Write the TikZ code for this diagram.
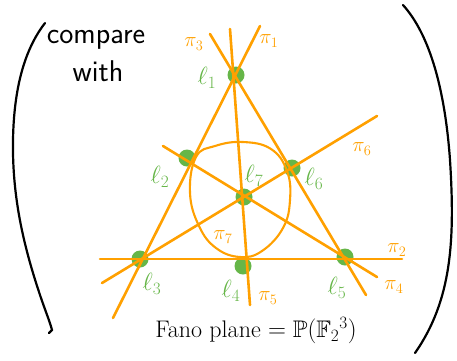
\documentclass[tikz,border=0pt]{standalone}
\usepackage{amssymb}
\definecolor{fanoorange}{RGB}{255,160,0}
\definecolor{fanogreen}{RGB}{102,182,72}
\tikzset{
  fanoline/.style={draw=fanoorange,line width=2.6pt,line cap=round},
  dotpt/.style={circle,fill=fanogreen,inner sep=0pt,minimum size=17pt},
  ptlabel/.style={text=fanogreen,font=\fontsize{25}{25}\selectfont},
  linelabel/.style={text=fanoorange,font=\fontsize{22}{22}\selectfont},
  paren/.style={draw=black,line width=2.2pt,line cap=round},
  handtext/.style={text=black,font=\sffamily\fontsize{30}{30}\selectfont}
}
\begin{document}
\begin{tikzpicture}[x=1pt,y=-1pt]
\useasboundingbox (0,0) rectangle (457,360);
% points
\node[dotpt] (l1) at (236,75) {};
\node[dotpt] (l2) at (187,158) {};
\node[dotpt] (l6) at (292,168) {};
\node[dotpt] (l7) at (244,197) {};
\node[dotpt] (l3) at (140,259) {};
\node[dotpt] (l4) at (243,266) {};
\node[dotpt] (l5) at (345,257) {};
% line end points
\coordinate (a3) at (210,34);   \coordinate (b3) at (366,295);
\coordinate (a1) at (260,26);   \coordinate (b1) at (113,318);
\coordinate (a5) at (230,29);   \coordinate (b5) at (250,305);
\coordinate (a6) at (377,116);  \coordinate (b6) at (102,283);
\coordinate (a4) at (163,146);  \coordinate (b4) at (377,277);
\coordinate (a2) at (100,259);  \coordinate (b2) at (402,259);
% lines
\draw[fanoline] (a3) -- (b3);
\draw[fanoline] (a1) -- (b1);
\draw[fanoline] (a5) -- (b5);
\draw[fanoline] (a6) -- (b6);
\draw[fanoline] (a4) -- (b4);
\draw[fanoline] (a2) -- (b2);
\draw[fanoline,line width=2.1pt] plot[smooth cycle,tension=0.7] coordinates
  {(196,157) (215,146) (243,142) (271,149) (287,171) (290,200) (283,228) (262,251) (240,257) (216,248) (199,226) (190,193)};
% line labels
\node[linelabel] (p3) at (194,44) {$\pi_3$};
\node[linelabel] (p1) at (269,41) {$\pi_1$};
\node[linelabel] (p6) at (362,149) {$\pi_6$};
\node[linelabel] (p7) at (223,237) {$\pi_7$};
\node[linelabel] (p5) at (268,298) {$\pi_5$};
\node[linelabel] (p2) at (397,250) {$\pi_2$};
\node[linelabel] (p4) at (394,287) {$\pi_4$};
% point labels
\node[ptlabel] (t1) at (207,78) {$\ell_1$};
\node[ptlabel] (t2) at (160,177) {$\ell_2$};
\node[ptlabel] (t7) at (254,176) {$\ell_7$};
\node[ptlabel] (t6) at (314,179) {$\ell_6$};
\node[ptlabel] (t3) at (152,284) {$\ell_3$};
\node[ptlabel] (t4) at (231,291) {$\ell_4$};
\node[ptlabel] (t5) at (337,288) {$\ell_5$};
% text
\node[handtext] (cmp) at (96,40) {compare};
\node[handtext] (with) at (98,71) {with};
\node[text=black,font=\fontsize{24}{24}\selectfont] (fano) at (256,331) {Fano plane $=\mathbb{P}(\mathbb{F}_2{}^{3})$};
% parentheses
\draw[paren] (45,23) .. controls (28,45) and (14,80) .. (13,140)
  .. controls (12,200) and (25,250) .. (40,295) .. controls (45,310) and (50,322) .. (52,330) -- (49,333);
\draw[paren] (403,5) .. controls (430,35) and (445,90) .. (450,160)
  .. controls (455,240) and (452,300) .. (415,353);
\end{tikzpicture}
\end{document}
